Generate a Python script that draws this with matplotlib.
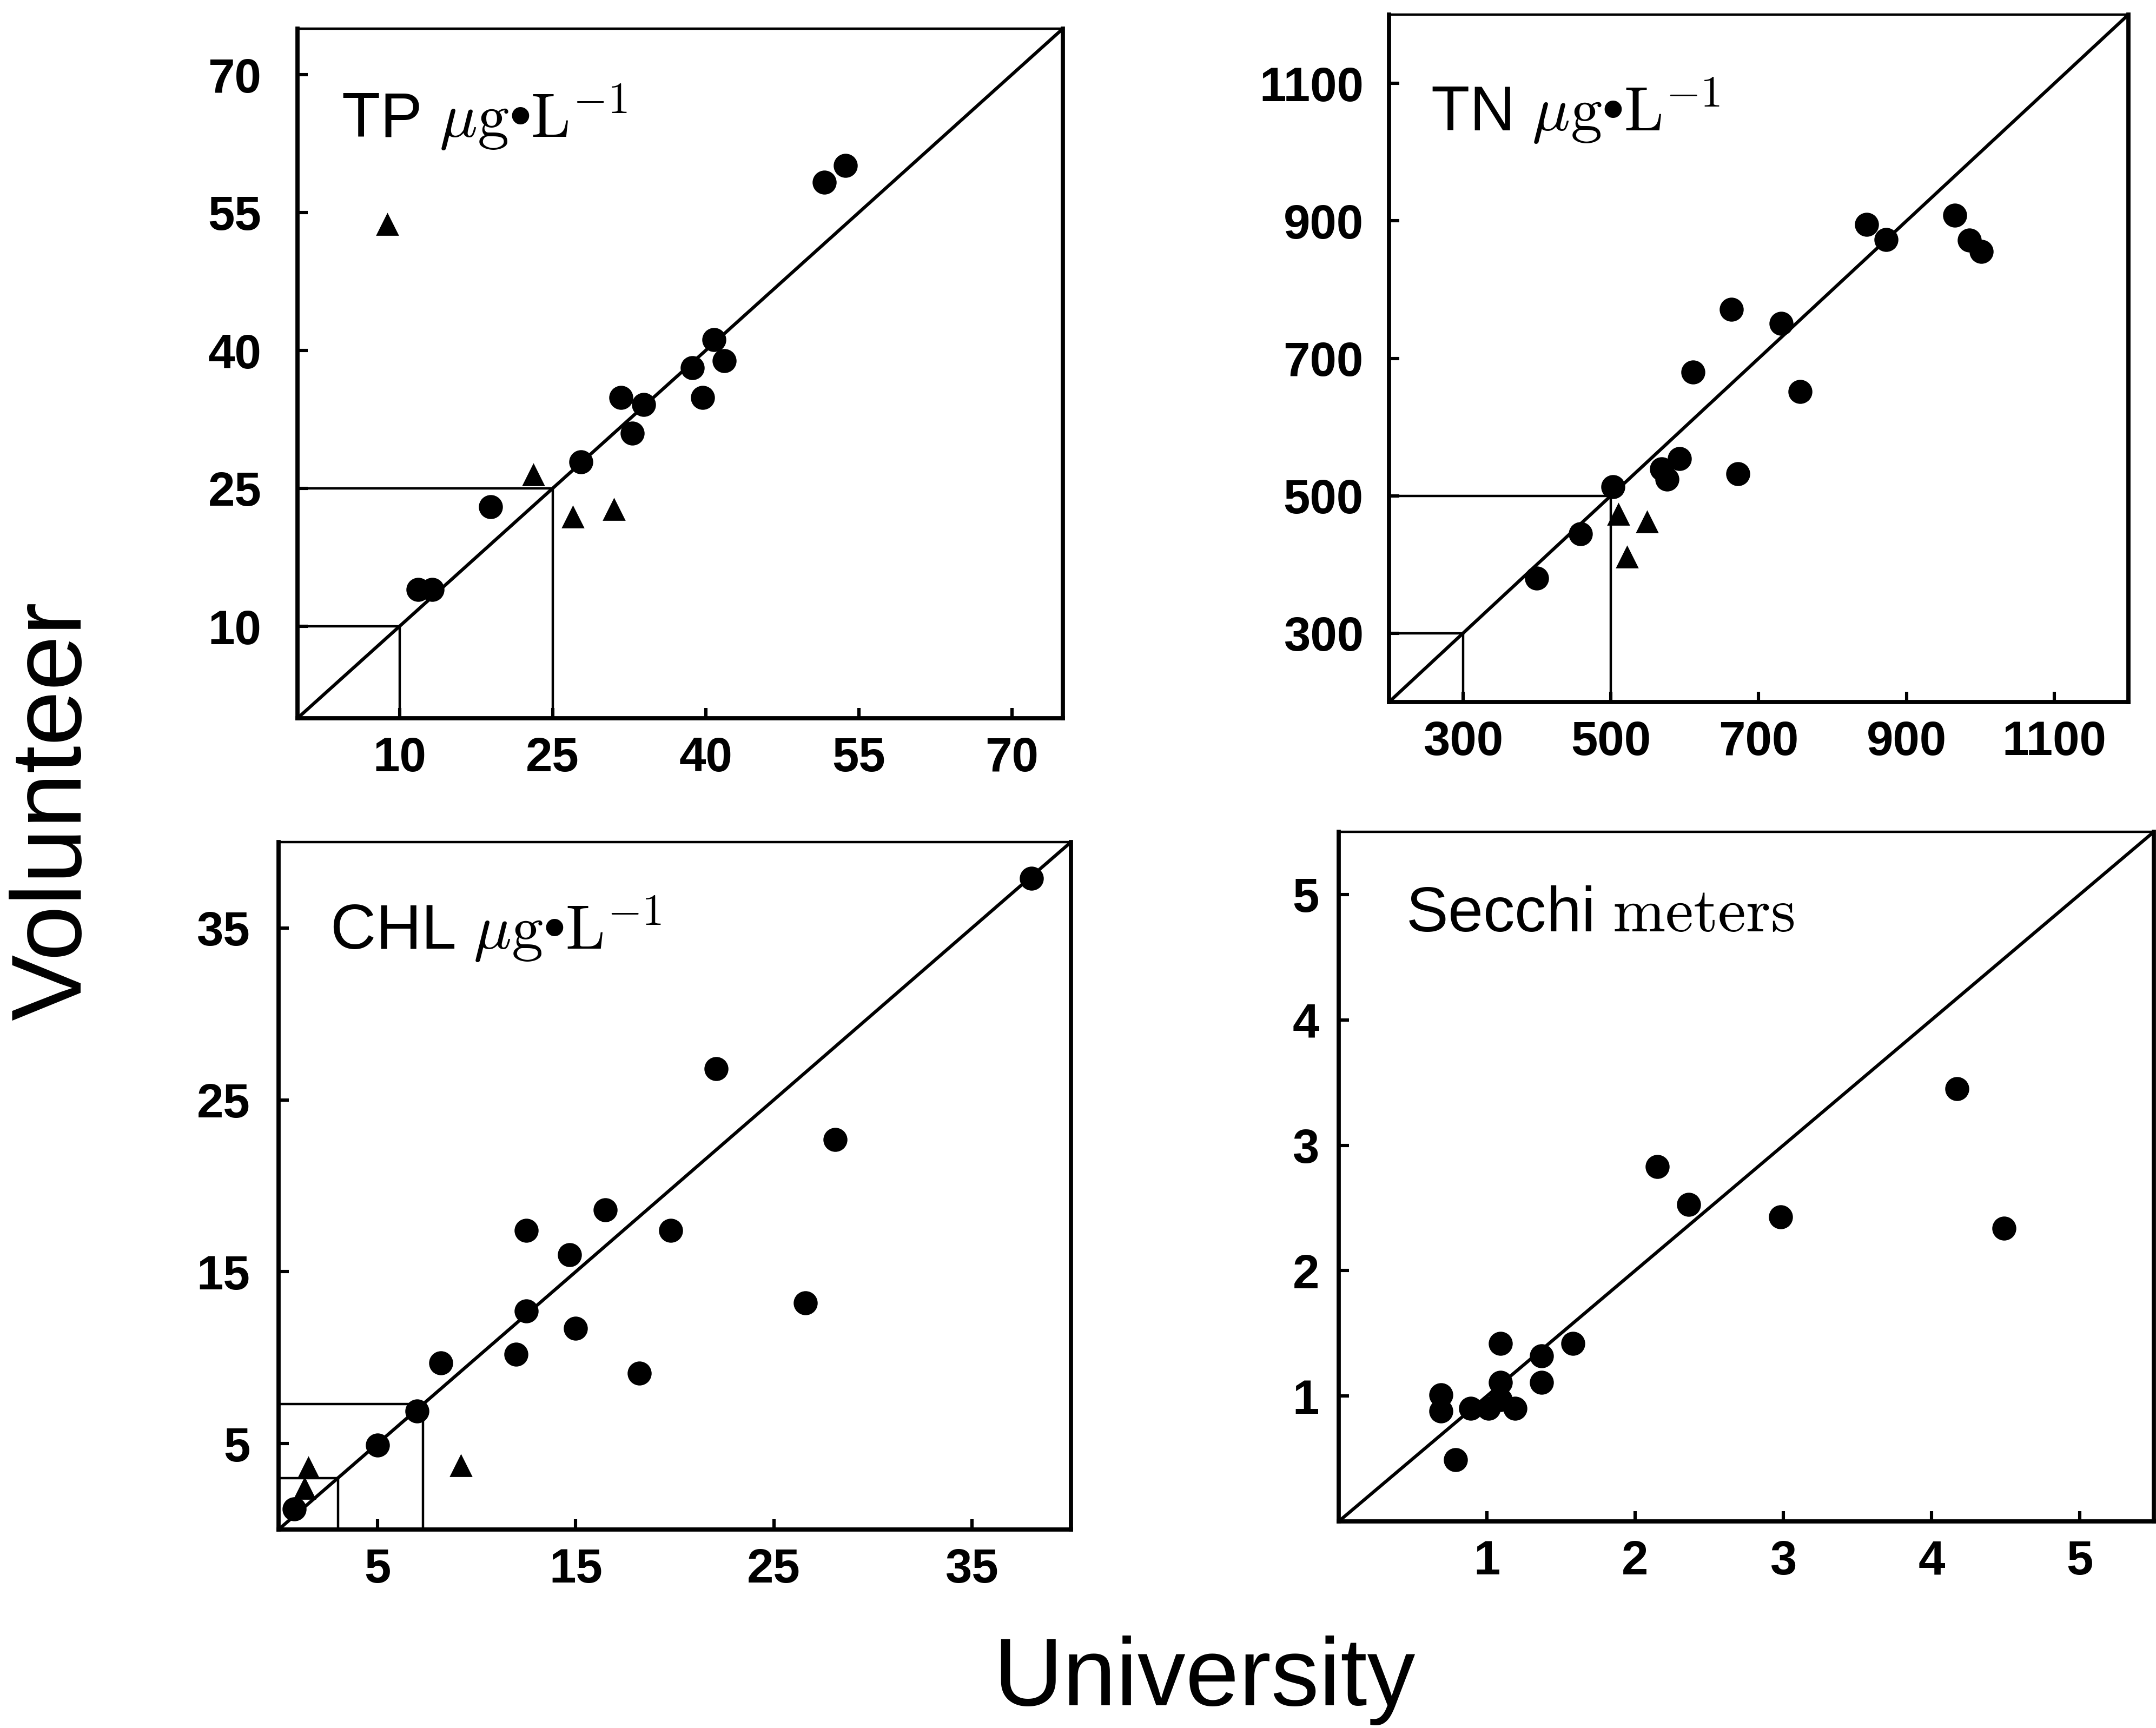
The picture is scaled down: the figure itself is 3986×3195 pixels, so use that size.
import matplotlib
matplotlib.use("Agg")
import matplotlib.pyplot as plt

plt.rcParams['font.family'] = ['Liberation Sans', 'DejaVu Sans']
plt.rcParams['mathtext.fontset'] = 'cm'

# ---------------- data ----------------
# TP (ug/L)
tp_circle_x = [11.8, 13.2, 18.9, 27.8, 31.7, 33.9, 32.8, 38.7, 39.7, 40.8, 41.8, 51.6, 53.7]
tp_circle_y = [14.0, 14.0, 23.0, 27.9, 34.9, 34.1, 31.0, 38.1, 34.9, 41.2, 38.9, 58.3, 60.1]
tp_tri_x = [8.8, 23.1, 27.0, 31.0]
tp_tri_y = [53.7, 26.5, 21.9, 22.7]
tp_thresholds = [10, 25]
tp_ticks = [10, 25, 40, 55, 70]

# TN (ug/L)
tn_circle_x = [400, 459, 503, 569, 576, 593, 611, 663, 672, 730, 756, 846, 872, 965, 985, 1001]
tn_circle_y = [380, 445, 513, 539, 524, 554, 680, 771, 532, 751, 652, 895, 873, 908, 872, 855]
tn_tri_x = [510, 549, 522]
tn_tri_y = [473, 462, 411]
tn_thresholds = [300, 500]
tn_ticks = [300, 500, 700, 900, 1100]

# CHL (ug/L)
chl_circle_x = [38.0, 22.1, 28.1, 16.5, 12.5, 19.8, 14.7, 12.5, 15.0, 26.6, 12.0, 8.2, 18.2, 7.0, 5.0, 0.8]
chl_circle_y = [37.9, 26.8, 22.7, 18.6, 17.4, 17.4, 16.0, 12.7, 11.7, 13.2, 10.2, 9.7, 9.1, 6.9, 4.9, 1.2]
chl_tri_x = [9.2, 1.5, 1.3]
chl_tri_y = [3.7, 3.6, 2.4]
chl_thresholds = [3, 7.3]
chl_ticks = [5, 15, 25, 35]

# Secchi (m)
sd_circle_x = [4.17, 4.49, 2.98, 2.15, 2.36, 1.58, 1.09, 1.37, 1.37, 1.09, 0.69, 0.69, 0.89, 1.01, 1.19, 1.09, 0.79]
sd_circle_y = [3.45, 2.34, 2.43, 2.83, 2.53, 1.42, 1.42, 1.32, 1.11, 1.11, 1.01, 0.88, 0.90, 0.90, 0.90, 0.97, 0.49]
sd_ticks = [1, 2, 3, 4, 5]

W, H = 3987, 3195
DPI = 200
fig = plt.figure(figsize=(W / DPI, H / DPI), dpi=DPI)

def px_axes(left, top, right, bottom):
    return fig.add_axes([left / W, 1 - bottom / H, (right - left) / W, (bottom - top) / H])

unit = r"$\mu\mathrm{g}$" + "\u2022" + r"$\mathrm{L}^{-1}$"

panels = [
    dict(box=(550, 53, 1965, 1328), lim=(0, 75), cx=tp_circle_x, cy=tp_circle_y,
         tx=tp_tri_x, ty=tp_tri_y, thr=tp_thresholds, ticks=tp_ticks,
         title="TP " + unit, tpos=(0.057, 0.842),
         xpad=12, ypad=24),
    dict(box=(2568, 27, 3935, 1298), lim=(200, 1200), cx=tn_circle_x, cy=tn_circle_y,
         tx=tn_tri_x, ty=tn_tri_y, thr=tn_thresholds, ticks=tn_ticks,
         title="TN " + unit, tpos=(0.056, 0.83),
         xpad=12, ypad=17),
    dict(box=(515, 1557, 1980, 2828), lim=(0, 40), cx=chl_circle_x, cy=chl_circle_y,
         tx=chl_tri_x, ty=chl_tri_y, thr=chl_thresholds, ticks=chl_ticks,
         title="CHL " + unit, tpos=(0.065, 0.844),
         xpad=12, ypad=19),
    dict(box=(2475, 1538, 3982, 2813), lim=(0, 5.5), cx=sd_circle_x, cy=sd_circle_y,
         tx=[], ty=[], thr=[], ticks=sd_ticks,
         title=r"Secchi $\mathrm{meters}$", tpos=(0.082, 0.856),
         xpad=12, ypad=13),
]

for p in panels:
    ax = px_axes(*p['box'])
    lo, hi = p['lim']
    ax.set_xlim(lo, hi)
    ax.set_ylim(lo, hi)
    ax.plot([lo, hi], [lo, hi], color='black', lw=2.2, zorder=2)
    for t in p['thr']:
        ax.plot([lo, t], [t, t], color='black', lw=1.6, zorder=2)
        ax.plot([t, t], [lo, t], color='black', lw=1.6, zorder=2)
    ax.plot(p['cx'], p['cy'], linestyle='none', marker='o', ms=15,
            color='black', zorder=3)
    if p['tx']:
        ax.plot(p['tx'], p['ty'], linestyle='none', marker='^', ms=13.5,
                color='black', zorder=3)
    ax.set_xticks(p['ticks'])
    ax.set_yticks(p['ticks'])
    ax.set_xticklabels([str(t) for t in p['ticks']])
    ax.set_yticklabels([str(t) for t in p['ticks']])
    ax.tick_params(axis='both', direction='in', length=7, width=2.2,
                   labelsize=32, top=False, right=False)
    ax.tick_params(axis='x', pad=p['xpad'])
    ax.tick_params(axis='y', pad=p['ypad'])
    for lab in ax.get_xticklabels() + ax.get_yticklabels():
        lab.set_fontweight('bold')
    for side, sp in ax.spines.items():
        sp.set_linewidth(1.6 if side == 'top' else 2.8)
    ax.text(p['tpos'][0], p['tpos'][1], p['title'], transform=ax.transAxes,
            fontsize=42, ha='left', va='baseline')

fig.text(0.0256, 0.5305, "Volunteer", rotation=90, ha='center', va='center', fontsize=66)
fig.text(0.5584, 0.0131, "University", ha='center', va='baseline', fontsize=64)

fig.savefig("out.png", dpi=DPI, facecolor='white')
